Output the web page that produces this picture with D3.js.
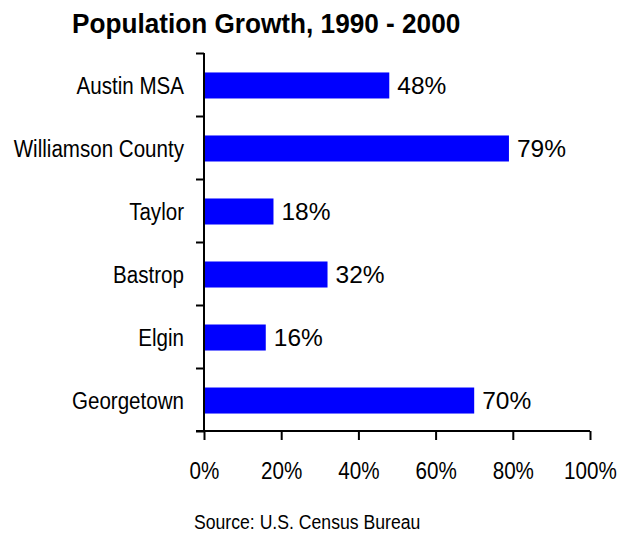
<!DOCTYPE html>
<html>
<head>
<meta charset="utf-8">
<script src="https://cdn.jsdelivr.net/npm/d3@7"></script>
<style>
  body { margin: 0; background: #fff; }
  svg { display: block; }
  text { font-family: "Liberation Sans", Arial, sans-serif; }
</style>
</head>
<body>
<svg id="chart" width="625" height="533"></svg>
<script>
const categories = ["Austin MSA", "Williamson County", "Taylor", "Bastrop", "Elgin", "Georgetown"];
const growth = [48, 79, 18, 32, 16, 70];
const xTicks = [0, 20, 40, 60, 80, 100];

const width = 625, height = 533;
const margin = {top: 53, right: 35, bottom: 102, left: 204};
const innerWidth = width - margin.left - margin.right;
const innerHeight = height - margin.top - margin.bottom;
// no narrow font installed, so squeeze the regular one
const narrow = 0.84;

const data = categories.map((c, i) => ({name: c, value: growth[i]}));

const svg = d3.select("#chart");

svg.append("text")
   .attr("transform", `translate(72, 32.5) scale(0.935, 1)`)
   .attr("font-size", 28)
   .attr("font-weight", "bold")
   .attr("fill", "#000")
   .text("Population Growth, 1990 - 2000");

const g = svg.append("g")
             .attr("transform", `translate(${margin.left}, ${margin.top})`);

const xScale = d3.scaleLinear()
                 .domain([0, 100])
                 .range([0, innerWidth]);

const yScale = d3.scaleBand()
                 .domain(categories)
                 .range([0, innerHeight])
                 .paddingInner(0.587)
                 .paddingOuter(0.293);

// Bars
g.selectAll("rect.bar")
 .data(data)
 .enter()
 .append("rect")
    .attr("class", "bar")
    .attr("x", 0)
    .attr("y", d => yScale(d.name) + 1)
    .attr("width", d => xScale(d.value))
    .attr("height", yScale.bandwidth())
    .attr("fill", "#0000ff");

// Value labels
g.selectAll("text.val")
 .data(data)
 .enter()
 .append("text")
    .attr("class", "val")
    .attr("x", d => xScale(d.value) + 8)
    .attr("y", d => yScale(d.name) + yScale.bandwidth() / 2 + 1)
    .attr("dy", "0.36em")
    .attr("font-size", 24.5)
    .attr("fill", "#000")
    .text(d => d.value + "%");

// Y axis: ticks between categories
const yAxisScale = d3.scaleLinear().domain([0, categories.length]).range([0, innerHeight]);
const yAxis = d3.axisLeft(yAxisScale)
                .tickValues(d3.range(0, categories.length + 1))
                .tickSize(8)
                .tickFormat("");

const yg = g.append("g")
            .attr("id", "y-axis")
            .call(yAxis);
yg.select(".domain").remove();
yg.append("line")
  .attr("x1", 0).attr("x2", 0)
  .attr("y1", 0).attr("y2", innerHeight)
  .attr("stroke", "#000").attr("stroke-width", 2);
yg.selectAll(".tick line").attr("stroke", "#000").attr("stroke-width", 2);

// Category labels
g.selectAll("text.cat")
 .data(data)
 .enter()
 .append("text")
    .attr("class", "cat")
    .attr("transform", d => `translate(-20, ${yScale(d.name) + yScale.bandwidth() / 2 + 1}) scale(${narrow}, 1)`)
    .attr("dy", "0.36em")
    .attr("text-anchor", "end")
    .attr("font-size", 24.5)
    .attr("fill", "#000")
    .text(d => d.name);

// X axis
const xAxis = d3.axisBottom(xScale)
                .tickValues(xTicks)
                .tickSize(9)
                .tickPadding(22)
                .tickFormat(d => d + "%");

const xg = g.append("g")
            .attr("id", "x-axis")
            .attr("transform", `translate(0, ${innerHeight})`)
            .call(xAxis);
xg.select(".domain").remove();
xg.append("line")
  .attr("x1", -8).attr("x2", innerWidth)
  .attr("y1", 0).attr("y2", 0)
  .attr("stroke", "#000").attr("stroke-width", 2);
xg.selectAll(".tick line").attr("stroke", "#000").attr("stroke-width", 2);
xg.selectAll(".tick text")
  .attr("transform", "scale(0.86, 1)")
  .attr("font-family", "'Liberation Sans', Arial, sans-serif")
  .attr("font-size", 24)
  .attr("fill", "#000");

svg.append("text")
   .attr("transform", `translate(194, 529) scale(${narrow}, 1)`)
   .attr("font-size", 21)
   .attr("fill", "#000")
   .text("Source: U.S. Census Bureau");
</script>
</body>
</html>
